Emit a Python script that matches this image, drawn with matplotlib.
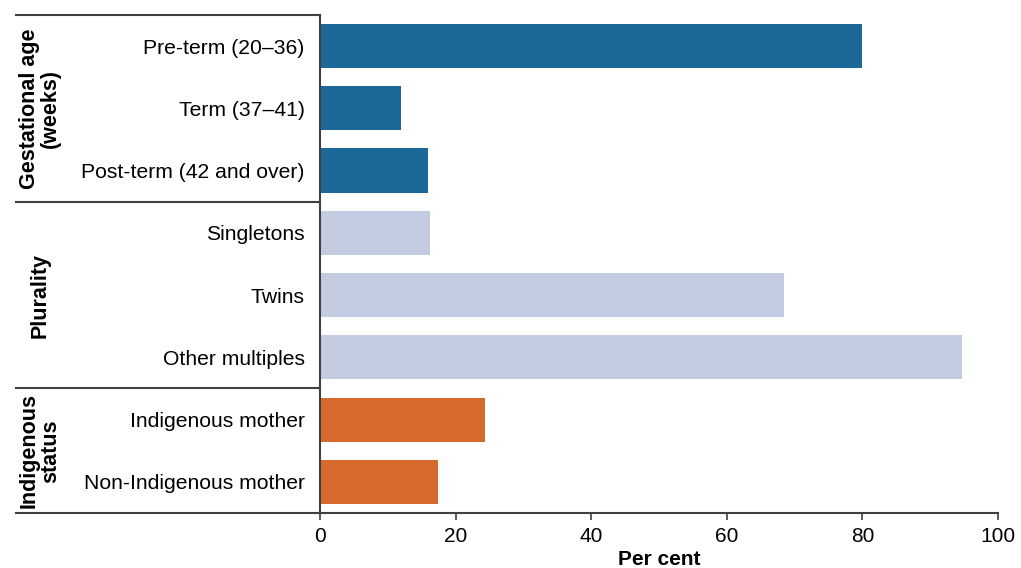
import matplotlib
matplotlib.use("Agg")
import matplotlib.pyplot as plt
import matplotlib.transforms as mtransforms

plt.rcParams['font.family'] = ['Liberation Sans', 'DejaVu Sans']

# data (per cent)
categories = ['Pre-term (20–36)', 'Term (37–41)', 'Post-term (42 and over)',
              'Singletons', 'Twins', 'Other multiples',
              'Indigenous mother', 'Non-Indigenous mother']
values = [80.0, 11.9, 15.9, 16.2, 68.4, 94.7, 24.4, 17.4]
groups = ['Gestational age\n(weeks)', 'Plurality', 'Indigenous\nstatus']
group_sizes = [3, 3, 2]
group_colors = ['#1c6998', '#c3cbe0', '#d66a2d']
xticks = [0, 20, 40, 60, 80, 100]

fig = plt.figure(figsize=(10.21, 5.68), dpi=100)
ax = fig.add_axes([0.3134, 0.0968, 0.664, 0.877])

colors = []
for c, n in zip(group_colors, group_sizes):
    colors += [c] * n

pos = list(range(len(categories)))
ax.barh(pos, values, height=0.71, color=colors)
ax.set_ylim(len(categories) - 0.5, -0.5)
ax.set_xlim(0, 100)
ax.set_yticks(pos)
ax.set_yticklabels(categories, fontsize=15.2)
ax.set_xticks(xticks)
ax.set_xticklabels([str(t) for t in xticks], fontsize=15)
ax.set_xlabel('Per cent', fontsize=15, fontweight='bold', labelpad=3)

for s in ['top', 'right']:
    ax.spines[s].set_visible(False)
for s in ['left', 'bottom']:
    ax.spines[s].set_color('#404040')
    ax.spines[s].set_linewidth(1.5)
ax.tick_params(axis='y', length=0, pad=11)
ax.tick_params(axis='x', length=5, width=1.2, color='#404040', pad=5)

# group separators and group labels in the label area
trans = mtransforms.blended_transform_factory(ax.transAxes, ax.transData)
x_left = (16 - 320) / 678.0
edges = [-0.5]
for n in group_sizes:
    edges.append(edges[-1] + n)
for e in edges:
    ax.plot([x_left, 0], [e, e], color='#404040', lw=1.5,
            transform=trans, clip_on=False)
for g, a, b in zip(groups, edges[:-1], edges[1:]):
    ax.text(-0.413, (a + b) / 2, g, rotation=90, transform=trans,
            ha='center', va='center', fontsize=15.5, fontweight='bold',
            linespacing=1.0)

fig.savefig('out.png', dpi=100)
